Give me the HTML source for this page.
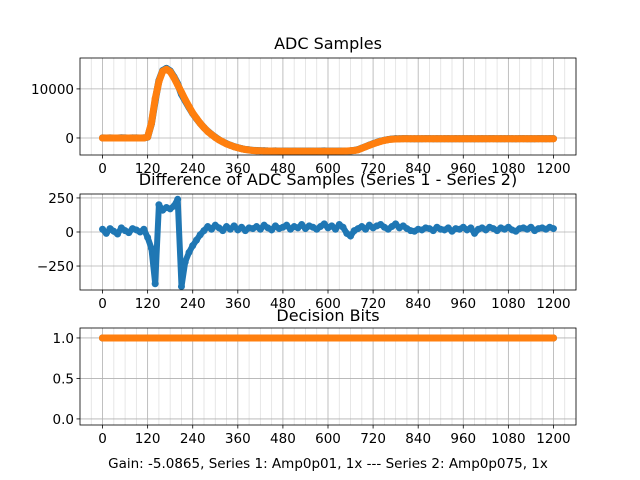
<!DOCTYPE html>
<html><head><meta charset="utf-8"><style>
body{margin:0;background:#fff}
svg{display:block;font-family:"DejaVu Sans","Liberation Sans",sans-serif}
</style></head><body>
<svg id="fig" width="640" height="480" viewBox="0 0 640 480" xmlns="http://www.w3.org/2000/svg"></svg>
<script>
// ---- data (one value every 10 samples, 0..1200) ----
const sampleStep = 10;
const adcSeries2 = [0,0,0,0,0,0,0,0,0,0,0,0,200,3000,8000,11500,13600,14000,13500,12300,10800,9300,7800,6400,5100,4000,3000,2100,1300,700,100,-400,-800,-1200,-1500,-1800,-2000,-2200,-2350,-2450,-2550,-2600,-2620,-2650,-2660,-2670,-2680,-2690,-2700,-2700,-2700,-2700,-2700,-2700,-2700,-2700,-2700,-2700,-2700,-2700,-2700,-2700,-2700,-2700,-2680,-2650,-2600,-2550,-2400,-2100,-1800,-1500,-1200,-950,-700,-500,-350,-250,-200,-180,-170,-160,-160,-160,-160,-160,-160,-160,-160,-160,-160,-160,-160,-160,-160,-160,-160,-160,-160,-160,-160,-160,-160,-160,-160,-160,-160,-160,-160,-160,-160,-160,-160,-160,-160,-160,-160,-160,-160,-160,-160];
const diffValues = [20,-10,25,5,-15,30,10,-5,25,15,0,20,-40,-120,-380,200,160,180,170,190,240,-400,-220,-150,-100,-60,-20,10,40,20,50,30,10,40,20,45,15,35,10,30,25,40,20,50,30,15,45,25,35,50,20,40,30,55,25,45,35,20,40,60,30,45,20,55,35,-10,-30,10,25,40,20,50,30,45,55,35,20,40,60,30,45,25,10,5,20,15,30,25,10,35,20,15,30,5,25,20,35,15,30,-10,20,30,15,35,25,10,30,20,35,15,5,25,30,20,35,10,25,30,20,35,25];
const decisionBits = new Array(121).fill(1);
const xTicks = [0,120,240,360,480,600,720,840,960,1080,1200];
const ticks1 = [0,10000], ticks2 = [-250,0,250], ticks3 = [0.0,0.5,1.0];
const tickLbl3 = ["0.0","0.5","1.0"];
const tickLbl2 = ["\u2212250","0","250"];

const NS="http://www.w3.org/2000/svg";
const svg=document.getElementById('fig');
function mk(tag,attrs,parent){const e=document.createElementNS(NS,tag);for(const k in attrs)e.setAttribute(k,attrs[k]);(parent||svg).appendChild(e);return e;}
const L=80,R=576,XMIN=-60,XMAX=1260;
const sx=v=>L+(v-XMIN)/(XMAX-XMIN)*(R-L);
const panels=[
 {name:'adc',top:58,bot:155,ymin:-3470,ymax:16300,ticks:ticks1,lbls:["0","10000"],title:"ADC Samples",ty:49},
 {name:'diff',top:194,bot:290,ymin:-426,ymax:279,ticks:ticks2,lbls:tickLbl2,title:"Difference of ADC Samples (Series 1 - Series 2)",ty:185},
 {name:'bits',top:328,bot:425,ymin:-0.075,ymax:1.123,ticks:ticks3,lbls:tickLbl3,title:"Decision Bits",ty:321}
];
function drawSeries(g,p,vals,color,name,w){
  const sy=v=>p.bot-(v-p.ymin)/(p.ymax-p.ymin)*(p.bot-p.top);
  let d='';vals.forEach((v,i)=>{d+=(i?'L':'M')+sx(i*sampleStep).toFixed(1)+' '+sy(v).toFixed(1);});
  const line=mk('path',{d:d,fill:'none',stroke:color,'stroke-width':w,'stroke-linejoin':'round','stroke-linecap':'round'},g);
  
  
  vals.forEach((v,i)=>{
    const c=mk('circle',{cx:sx(i*sampleStep),cy:sy(v),r:3.5,fill:color},g);
    
    
  });
}
panels.forEach((p,pi)=>{
  const g=mk('g',{});
  
  
  const sy=v=>p.bot-(v-p.ymin)/(p.ymax-p.ymin)*(p.bot-p.top);
  for(let m=-30;m<=1260;m+=30){ if(m%120===0)continue; const x=sx(m); if(x<L||x>R)continue;
    const l=mk('line',{x1:x,x2:x,y1:p.top,y2:p.bot,stroke:'#e0e0e0','stroke-width':0.8},g);
    
    }
  xTicks.forEach(t=>{const x=sx(t);
    const l=mk('line',{x1:x,x2:x,y1:p.top,y2:p.bot,stroke:'#b0b0b0','stroke-width':0.8},g);
    
    
    mk('line',{x1:x,x2:x,y1:p.bot,y2:p.bot+3.5,stroke:'#000','stroke-width':0.8},g);
    const tx=mk('text',{x:x,y:p.bot+18,'font-size':13.5,'text-anchor':'middle'},g);tx.textContent=t;
    
    });
  p.ticks.forEach((t,i)=>{const y=sy(t);
    const l=mk('line',{x1:L,x2:R,y1:y,y2:y,stroke:'#b0b0b0','stroke-width':0.8},g);
    
    
    mk('line',{x1:L-3.5,x2:L,y1:y,y2:y,stroke:'#000','stroke-width':0.8},g);
    const tx=mk('text',{x:L-6,y:y+5,'font-size':13.5,'text-anchor':'end'},g);tx.textContent=p.lbls[i];
    
    });
  if(pi===0){ const s1=adcSeries2.map((v,i)=>v+diffValues[i]); drawSeries(g,p,s1,'#1f77b4','series1',7); drawSeries(g,p,adcSeries2,'#ff7f0e','series2',7); }
  if(pi===1){ drawSeries(g,p,diffValues,'#1f77b4','difference',6); }
  if(pi===2){ drawSeries(g,p,decisionBits,'#1f77b4','bits1',7); drawSeries(g,p,decisionBits,'#ff7f0e','bits2',7); }
  const fr=mk('rect',{x:L,y:p.top,width:R-L,height:p.bot-p.top,fill:'none',stroke:'#000','stroke-width':0.8},g);
  
  
  const t=mk('text',{x:(L+R)/2,y:p.ty,'font-size':16,'text-anchor':'middle'},g);t.textContent=p.title;
  
  
});
const xl=mk('text',{x:(L+R)/2,y:468,'font-size':13.5,'text-anchor':'middle'});
xl.textContent="Gain: -5.0865, Series 1: Amp0p01, 1x --- Series 2: Amp0p075, 1x";


</script>
</body></html>
